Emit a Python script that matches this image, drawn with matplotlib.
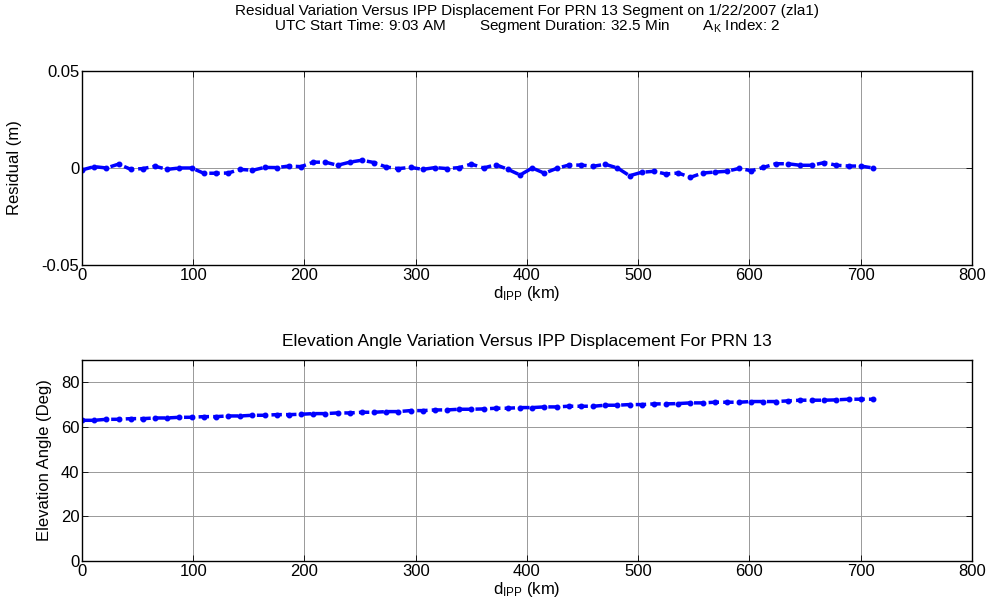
"""Residual and elevation angle vs IPP displacement, PRN 13 segment."""

import matplotlib
matplotlib.use('Agg')
import matplotlib.pyplot as plt

plt.rcParams['font.family'] = ['Liberation Sans', 'DejaVu Sans']
plt.rcParams['font.size'] = 12
plt.rcParams['mathtext.fontset'] = 'custom'
plt.rcParams['mathtext.rm'] = 'Liberation Sans'

# IPP displacement (km)
d_ipp = [0, 10.9, 21.9, 32.8, 43.8, 54.7, 65.6, 76.6, 87.5, 98.5,
         109.4, 120.3, 131.3, 142.2, 153.2, 164.1, 175.0, 186.0, 196.9, 207.9,
         218.8, 229.7, 240.7, 251.6, 262.6, 273.5, 284.4, 295.4, 306.3, 317.3,
         328.2, 339.1, 350.1, 361.0, 372.0, 382.9, 393.8, 404.8, 415.7, 426.7,
         437.6, 448.5, 459.5, 470.4, 481.4, 492.3, 503.2, 514.2, 525.1, 536.1,
         547.0, 557.9, 568.9, 579.8, 590.8, 601.7, 612.6, 623.6, 634.5, 645.5,
         656.4, 667.3, 678.3, 689.2, 700.2, 711.1]

# residual (m)
residual = [-0.0010, 0.0007, 0.0000, 0.0020, -0.0007, -0.0003, 0.0009, -0.0007, 0.0000, 0.0000,
            -0.0027, -0.0027, -0.0026, -0.0007, -0.0012, 0.0003, 0.0002, 0.0010, 0.0007, 0.0030,
            0.0030, 0.0014, 0.0030, 0.0040, 0.0028, 0.0005, -0.0003, 0.0003, -0.0007, 0.0002,
            -0.0003, 0.0002, 0.0020, 0.0000, 0.0017, -0.0007, -0.0036, 0.0000, -0.0027, -0.0002,
            0.0015, 0.0015, 0.0009, 0.0019, 0.0000, -0.0040, -0.0022, -0.0017, -0.0031, -0.0026,
            -0.0048, -0.0026, -0.0021, -0.0017, -0.0002, -0.0014, 0.0003, 0.0022, 0.0022, 0.0014,
            0.0014, 0.0028, 0.0014, 0.0010, 0.0010, 0.0000]

# elevation angle (deg)
elevation = [63.0, 63.0, 63.45, 63.45, 63.75, 63.75, 64.05, 64.05, 64.35, 64.35,
             64.65, 64.65, 64.95, 64.95, 65.25, 65.25, 65.55, 65.55, 65.7, 66.0,
             66.0, 66.3, 66.3, 66.6, 66.6, 66.9, 66.9, 67.35, 67.35, 67.65,
             67.65, 67.95, 67.95, 68.1, 68.4, 68.4, 68.7, 68.7, 69.0, 69.0,
             69.3, 69.3, 69.3, 69.75, 69.75, 70.05, 70.05, 70.35, 70.35, 70.5,
             70.8, 70.8, 71.1, 71.1, 71.1, 71.4, 71.4, 71.4, 71.7, 72.0,
             72.0, 72.0, 72.15, 72.45, 72.45, 72.45]

x_ticks = [0, 100, 200, 300, 400, 500, 600, 700, 800]
res_ticks = [-0.05, 0, 0.05]
res_tick_labels = ['-0.05', '0', '0.05']
elev_ticks = [0, 20, 40, 60, 80]

title_top = ('Residual Variation Versus IPP Displacement For PRN 13 Segment on 1/22/2007 (zla1)\n'
             'UTC Start Time: 9:03 AM        Segment Duration: 32.5 Min        '
             r'$\mathregular{A_K}$ Index: 2')
title_bottom = 'Elevation Angle Variation Versus IPP Displacement For PRN 13'
xlabel = r'$\mathregular{d_{IPP}}$ (km)'


def style_axes(ax):
    ax.grid(True, color='#999999', linewidth=0.7)
    ax.set_axisbelow(True)
    ax.tick_params(direction='in', top=True, right=True, length=4, width=0.6,
                   labelsize=12, pad=2)
    for spine in ax.spines.values():
        spine.set_linewidth(1.0)


fig = plt.figure(figsize=(9.92, 6.11), dpi=100)

ax1 = fig.add_axes([0.0827, 0.5663, 0.897, 0.3175])
ax1.plot(d_ipp, residual, '.--', color='blue', linewidth=2.5, markersize=6.5,
         dashes=(3, 1.2))
ax1.set_xlim(0, 800)
ax1.set_ylim(-0.05, 0.05)
ax1.set_xticks(x_ticks)
ax1.set_yticks(res_ticks)
ax1.set_yticklabels(res_tick_labels)
ax1.set_xlabel(xlabel, labelpad=1)
ax1.set_ylabel('Residual (m)', labelpad=14)
style_axes(ax1)

fig.text(0.531, 1 - 4 / 611, title_top, ha='center', va='top', fontsize=11,
         linespacing=0.95)

ax2 = fig.add_axes([0.0827, 0.0818, 0.897, 0.329])
ax2.plot(d_ipp, elevation, '.--', color='blue', linewidth=2.5, markersize=6.5,
         dashes=(3, 1.2))
ax2.set_xlim(0, 800)
ax2.set_ylim(0, 90)
ax2.set_xticks(x_ticks)
ax2.set_yticks(elev_ticks)
ax2.set_xlabel(xlabel, labelpad=1)
ax2.set_ylabel('Elevation Angle (Deg)', labelpad=6)
ax2.set_title(title_bottom, fontsize=12.5, pad=10)
style_axes(ax2)

fig.savefig('out.png', dpi=100)
